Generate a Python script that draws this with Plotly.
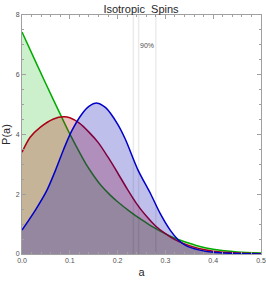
import plotly.graph_objects as go

# spin magnitude grid points (a) and densities P(a) for each curve
a_green = [0.0, 0.033, 0.066, 0.083, 0.1, 0.122, 0.135, 0.15, 0.165, 0.184, 0.2, 0.226, 0.25, 0.268, 0.31, 0.33, 0.35, 0.372, 0.4, 0.45, 0.5]
p_green = [7.43, 6.28, 5.15, 4.58, 4.02, 3.35, 2.98, 2.62, 2.3, 1.98, 1.75, 1.42, 1.15, 0.96, 0.6, 0.47, 0.36, 0.25, 0.16, 0.07, 0.03]

a_red = [0.0, 0.017, 0.038, 0.066, 0.087, 0.1, 0.12, 0.14, 0.16, 0.18, 0.2, 0.22, 0.24, 0.26, 0.28, 0.3, 0.32, 0.34, 0.36, 0.38, 0.4, 0.45, 0.5]
p_red = [3.41, 3.91, 4.24, 4.52, 4.59, 4.56, 4.38, 4.08, 3.72, 3.24, 2.72, 2.18, 1.68, 1.27, 0.93, 0.68, 0.48, 0.34, 0.23, 0.15, 0.09, 0.03, 0.01]

a_blue = [0.0, 0.028, 0.052, 0.07, 0.087, 0.104, 0.125, 0.14, 0.157, 0.175, 0.2, 0.216, 0.243, 0.268, 0.289, 0.31, 0.327, 0.344, 0.372, 0.4, 0.45, 0.5]
p_blue = [0.8, 1.47, 2.13, 2.8, 3.5, 4.12, 4.68, 4.94, 5.05, 4.9, 4.35, 3.85, 2.8, 2.05, 1.36, 0.8, 0.47, 0.27, 0.13, 0.06, 0.015, 0.002]

percentile_lines = [0.233, 0.244, 0.280]
percentile_label = "90%"
label_pos = (0.262, 6.97)

x_ticks = [0.0, 0.1, 0.2, 0.3, 0.4, 0.5]
y_ticks = [0, 2, 4, 6, 8]

series = [
    (a_green, p_green, "rgb(0,170,0)", "rgba(0,180,0,0.2)"),
    (a_red, p_red, "rgb(170,0,20)", "rgba(180,0,0,0.25)"),
    (a_blue, p_blue, "rgb(0,0,200)", "rgba(0,0,180,0.25)"),
]

fig = go.Figure()
for xs, ys, lc, fc in series:
    fig.add_trace(go.Scatter(x=xs, y=ys, mode="lines", line=dict(color=lc, width=1.5, shape="spline", smoothing=0.8),
                             fill="tozeroy", fillcolor=fc, showlegend=False, hoverinfo="skip", cliponaxis=True))

for xv in percentile_lines:
    fig.add_shape(type="line", x0=xv, x1=xv, y0=0, y1=8, xref="x", yref="y",
                  line=dict(color="rgba(0,0,0,0.08)", width=1.5), layer="above")

fig.add_annotation(x=label_pos[0], y=label_pos[1], text=percentile_label, showarrow=False,
                   font=dict(size=7, color="rgb(80,80,80)", family="Liberation Sans"))

axis_common = dict(showline=True, linecolor="rgb(160,160,160)", linewidth=1, mirror="ticks",
                   ticks="inside", ticklen=4, tickcolor="rgb(160,160,160)", showgrid=False, zeroline=False,
                   automargin=False,
                   tickfont=dict(size=7, color="rgb(80,80,80)", family="Liberation Sans"))

fig.update_xaxes(range=[0, 0.5], tickvals=x_ticks, tickformat=".1f", ticklabelstandoff=0,
                 minor=dict(ticks="inside", ticklen=2, dtick=0.02, tickcolor="rgb(160,160,160)", showgrid=False),
                 title=dict(text="a", font=dict(size=11, color="rgb(40,40,40)", family="Liberation Sans"), standoff=4),
                 **axis_common)
fig.update_yaxes(range=[0, 8], tickvals=y_ticks,
                 minor=dict(ticks="inside", ticklen=2, dtick=0.5, tickcolor="rgb(160,160,160)", showgrid=False),
                 title=dict(text="P(a)", font=dict(size=11, color="rgb(40,40,40)", family="Liberation Sans"), standoff=2),
                 **axis_common)

fig.update_layout(
    width=266, height=281,
    margin=dict(l=22, r=5, t=15, b=27),
    plot_bgcolor="white", paper_bgcolor="white",
    title=dict(text="Isotropic\u00a0\u00a0Spins", x=0.53, xanchor="center", y=0.968, yanchor="middle",
               font=dict(size=11, color="rgb(40,40,40)", family="Liberation Sans")),
)

fig.write_html("out.html", config={"displayModeBar": False},
               post_script="document.body.style.margin='0';document.body.style.overflow='hidden';")
